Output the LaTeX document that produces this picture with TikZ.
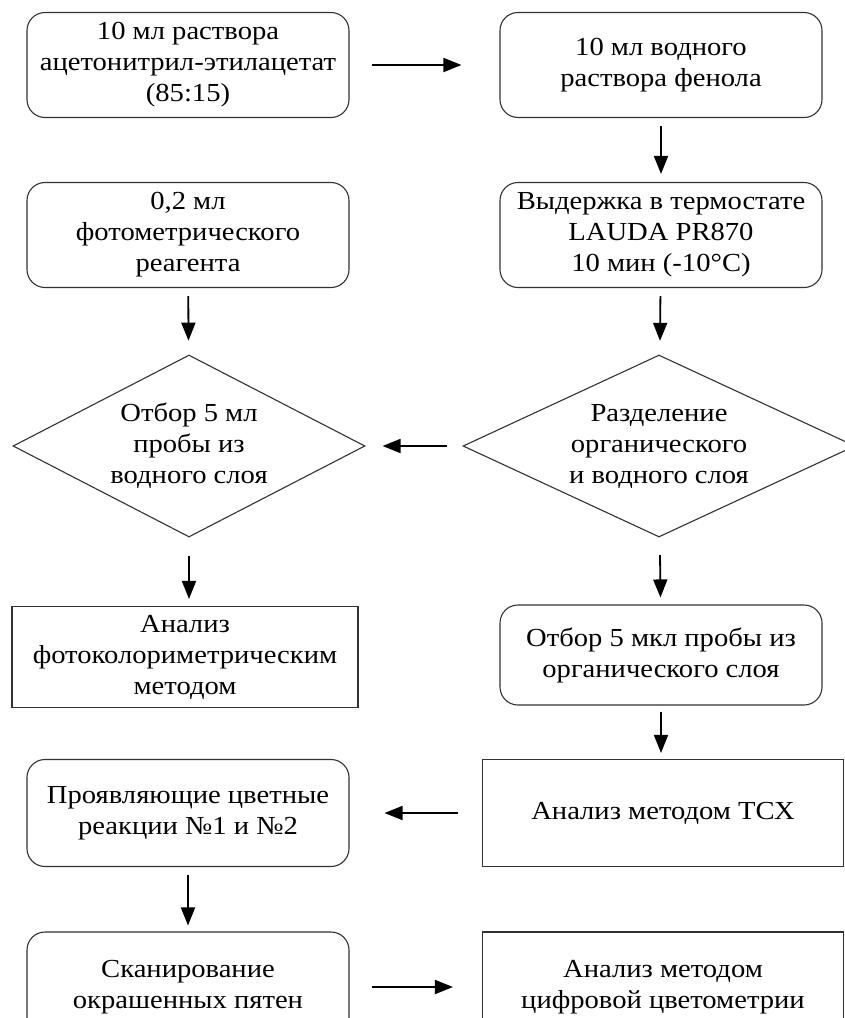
\documentclass[tikz,border=0pt]{standalone}
\usepackage{fontspec}
\setmainfont{Liberation Serif}[FakeStretch=1.1]
\usepackage{xcolor}
\usepackage{tikz}
\usetikzlibrary{shapes.geometric, arrows.meta, positioning}
\definecolor{boxline}{RGB}{50,50,50}
\tikzset{
  roundbox/.style={rectangle, draw=boxline, rounded corners=18pt,
    minimum width=322pt, minimum height=105pt, align=center,
    font=\fontsize{26}{31}\selectfont, line width=1.1pt, inner sep=0pt},
  sqbox/.style={rectangle, draw=boxline, align=center,
    font=\fontsize{26}{31}\selectfont, line width=1.1pt, inner sep=0pt},
  decision/.style={diamond, draw=boxline, align=center, minimum height=182pt,
    font=\fontsize{26}{31}\selectfont, line width=1.1pt, inner sep=0pt},
  arrow/.style={-{Triangle[length=18pt, width=14pt]}, line width=1.8pt, color=black}
}

\begin{document}
\begin{tikzpicture}[x=1pt, y=-1pt]
  \clip (0,0) rectangle (845,1018);
  \fill[white] (0,0) rectangle (845,1018);

  % Row 1
  \node[roundbox] (solv) at (188,65) {10 мл раствора\\ацетонитрил-этилацетат\\(85:15)};
  \node[roundbox] (phen) at (661,65) {10 мл водного\\раствора фенола};

  % Row 2
  \node[roundbox] (reag) at (188,235) {0,2 мл\\фотометрического\\реагента};
  \node[roundbox] (therm) at (661,235) {Выдержка в термостате\\LAUDA PR870\\10 мин (-10°C)};

  % Decisions
  \node[decision, aspect=1.93, minimum width=352pt] (take) at (189,446) {Отбор 5 мл\\пробы из\\водного слоя};
  \node[decision, aspect=2.15, minimum width=392pt] (sep) at (659,446) {Разделение\\органического\\и водного слоя};

  % Row 4
  \node[sqbox, minimum width=346pt, minimum height=101pt] (photo) at (185,657) {Анализ\\фотоколориметрическим\\методом};
  \node[roundbox, minimum height=100pt] (micro) at (661,655) {Отбор 5 мкл пробы из\\органического слоя};

  % Row 5
  \node[roundbox, minimum height=107pt] (react) at (188,813) {Проявляющие цветные\\реакции №1 и №2};
  \node[sqbox, minimum width=361pt, minimum height=107pt] (tlc) at (663,813) {Анализ методом ТСХ};

  % Row 6 (cut off at bottom)
  \node[roundbox, minimum height=110pt] (scan) at (188,987) {Сканирование\\окрашенных пятен};
  \node[sqbox, minimum width=361pt, minimum height=110pt] (digi) at (663,987) {Анализ методом\\цифровой цветометрии};

  % Arrows
  \draw[arrow, shorten <=22pt, shorten >=38pt] (solv) -- (phen);
  \draw[arrow, shorten <=8pt, shorten >=8pt] (phen) -- (therm);
  \draw[arrow, shorten <=8pt, shorten >=14pt] (reag) -- (take);
  \draw[arrow, shorten <=8pt, shorten >=14pt] (therm) -- (sep);
  \draw[arrow, shorten <=15pt, shorten >=17pt] (sep) -- (take);
  \draw[arrow, shorten <=18pt, shorten >=7pt] (take) -- (take |- photo.north);
  \draw[arrow, shorten <=18pt, shorten >=7pt] (sep) -- (micro);
  \draw[arrow, shorten <=6pt, shorten >=6pt] (micro) -- (micro |- tlc.north);
  \draw[arrow, shorten <=24pt, shorten >=35pt] (tlc) -- (react);
  \draw[arrow, shorten <=8pt, shorten >=6pt] (react) -- (scan);
  \draw[arrow, shorten <=22pt, shorten >=29pt] (scan) -- (digi);
\end{tikzpicture}
\end{document}
